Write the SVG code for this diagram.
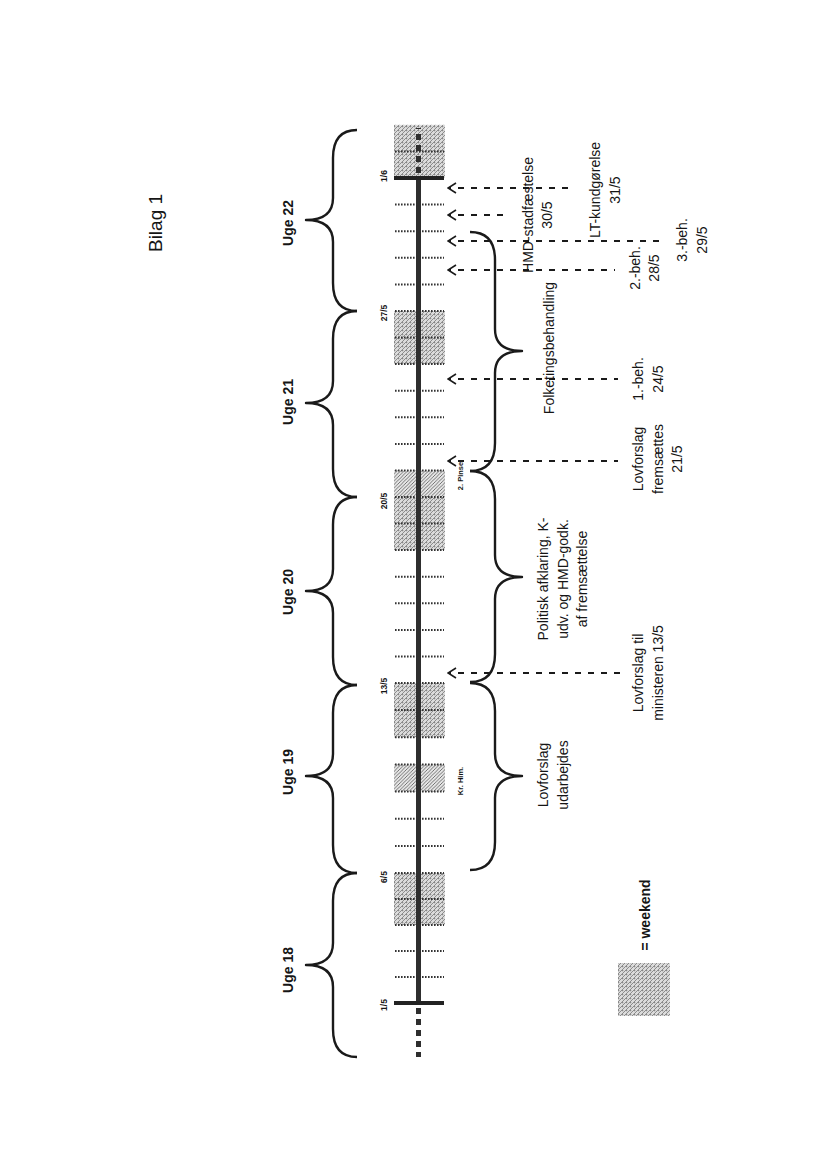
<svg xmlns="http://www.w3.org/2000/svg" width="825" height="1168" viewBox="0 0 825 1168">
<style>
text{font-family:"Liberation Sans",Arial,sans-serif;fill:#151515}
.t14{font-size:14px}
.b14{font-size:14px;font-weight:bold}
.dl{font-size:8.5px;font-weight:bold}
.hl{font-size:7.5px;font-weight:bold}
.brace{fill:none;stroke:#1a1a1a;stroke-width:2.4;stroke-linejoin:round}
.arr{stroke:#1a1a1a;stroke-width:2;stroke-dasharray:6 7;stroke-dashoffset:3;fill:none}
.wk{fill:url(#pw)}
.hol{fill:url(#ph)}
</style>
<defs>
<pattern id="pw" width="4" height="4" patternUnits="userSpaceOnUse">
<rect width="4" height="4" fill="#dcdcdc"/>
<path d="M-1,1 L1,-1 M0,4 L4,0 M3,5 L5,3" stroke="#777" stroke-width="0.8"/>
<rect x="2.2" y="2.2" width="1" height="1" fill="#5a5a5a"/>
</pattern>
<pattern id="ph" width="3.5" height="3.5" patternUnits="userSpaceOnUse">
<rect width="3.5" height="3.5" fill="#e6e6e6"/>
<path d="M-1,1 L1,-1 M0,3.5 L3.5,0 M2.5,4.5 L4.5,2.5" stroke="#555" stroke-width="0.8"/>
</pattern>
<marker id="ah" markerWidth="12" markerHeight="12" refX="1" refY="6" orient="auto" markerUnits="userSpaceOnUse">
<path d="M9,1 L1,6 L9,11" fill="none" stroke="#1a1a1a" stroke-width="1.6"/>
</marker>
</defs>
<rect width="825" height="1168" fill="#ffffff"/>

<g id="title">
<text style="font-size:19px" transform="translate(162,223) rotate(-90)" text-anchor="middle">Bilag 1</text>
</g>

<g id="timeline">
<rect class="wk" x="394" y="873" width="51" height="52"/>
<rect class="hol" x="394" y="764.4" width="51" height="27.2"/>
<rect class="wk" x="394" y="683" width="51" height="54.3"/>
<rect class="wk" x="394" y="497" width="51" height="53.1"/>
<rect class="hol" x="394" y="470.4" width="51" height="26.6"/>
<rect class="wk" x="394" y="311" width="51" height="53.1"/>
<rect class="wk" x="394" y="124.8" width="51" height="53.2"/>
<path fill="none" stroke="#333" stroke-width="2" stroke-dasharray="1.6 1.4" d="M395 977H444M395 951H444M395 925H444M395 899H444M395 873H444M395 845.9H444M395 818.7H444M395 791.6H444M395 764.4H444M395 737.3H444M395 710.1H444M395 683H444M395 656.4H444M395 629.9H444M395 603.3H444M395 576.7H444M395 550.1H444M395 523.6H444M395 497H444M395 470.4H444M395 443.9H444M395 417.3H444M395 390.7H444M395 364.1H444M395 337.6H444M395 311H444M395 284.4H444M395 257.8H444M395 231.2H444M395 204.6H444M395 151.4H444"/>
<line x1="418.5" y1="178" x2="418.5" y2="1003" stroke="#2e2e2e" stroke-width="5"/>
<line x1="418.5" y1="1008" x2="418.5" y2="1057" stroke="#2e2e2e" stroke-width="5" stroke-dasharray="6 5"/>
<line x1="418.5" y1="173" x2="418.5" y2="128" stroke="#2e2e2e" stroke-width="5" stroke-dasharray="6 5"/>
<line x1="394" y1="1003" x2="444" y2="1003" stroke="#222" stroke-width="4"/>
<line x1="394" y1="178" x2="444" y2="178" stroke="#222" stroke-width="4"/>
<text class="dl" transform="translate(387,1005) rotate(-90)" text-anchor="middle">1/5</text>
<text class="dl" transform="translate(387,877) rotate(-90)" text-anchor="middle">6/5</text>
<text class="dl" transform="translate(387,686) rotate(-90)" text-anchor="middle">13/5</text>
<text class="dl" transform="translate(387,501) rotate(-90)" text-anchor="middle">20/5</text>
<text class="dl" transform="translate(387,313) rotate(-90)" text-anchor="middle">27/5</text>
<text class="dl" transform="translate(387,176) rotate(-90)" text-anchor="middle">1/6</text>
<text class="hl" transform="translate(463,781) rotate(-90)" text-anchor="middle">Kr. Him.</text>
<text class="hl" transform="translate(463,476) rotate(-90)" text-anchor="middle">2. Pinse</text>
</g>

<g id="uge18">
<path class="brace" d="M357 1057 Q333 1057 333 1029 L333 987 Q333 965 306 965 Q333 965 333 943 L333 901 Q333 873 357 873"/>
<text class="b14" transform="translate(293,970) rotate(-90)" text-anchor="middle">Uge 18</text>
</g>
<g id="uge19">
<path class="brace" d="M357 873 Q333 873 333 845 L333 798 Q333 776 306 776 Q333 776 333 754 L333 713 Q333 685 357 685"/>
<text class="b14" transform="translate(293,772) rotate(-90)" text-anchor="middle">Uge 19</text>
</g>
<g id="uge20">
<path class="brace" d="M357 685 Q333 685 333 657 L333 613 Q333 591 306 591 Q333 591 333 569 L333 525 Q333 497 357 497"/>
<text class="b14" transform="translate(293,592) rotate(-90)" text-anchor="middle">Uge 20</text>
</g>
<g id="uge21">
<path class="brace" d="M357 497 Q333 497 333 469 L333 425 Q333 403 306 403 Q333 403 333 381 L333 339 Q333 311 357 311"/>
<text class="b14" transform="translate(293,402) rotate(-90)" text-anchor="middle">Uge 21</text>
</g>
<g id="uge22">
<path class="brace" d="M357 311 Q333 311 333 283 L333 242 Q333 220 306 220 Q333 220 333 198 L333 158 Q333 130 357 130"/>
<text class="b14" transform="translate(293,223) rotate(-90)" text-anchor="middle">Uge 22</text>
</g>

<g id="phase-udarbejdes">
<path class="brace" d="M470 870 Q495 870 495 842 L495 798 Q495 776 522 776 Q495 776 495 754 L495 711 Q495 683 470 683"/>
<text class="t14" transform="translate(548,775) rotate(-90)" text-anchor="middle"><tspan x="0" y="0">Lovforslag</tspan><tspan x="0" dy="20">udarbejdes</tspan></text>
</g>
<g id="phase-politisk">
<path class="brace" d="M470 682 Q495 682 495 654 L495 599 Q495 577 522 577 Q495 577 495 555 L495 499 Q495 471 470 471"/>
<text class="t14" transform="translate(548,579) rotate(-90)" text-anchor="middle"><tspan x="0" y="0">Politisk afklaring, K-</tspan><tspan x="0" dy="19.5">udv. og HMD-godk.</tspan><tspan x="0" dy="19.5">af fremsættelse</tspan></text>
</g>
<g id="phase-folketing">
<path class="brace" d="M470 471 Q495 471 495 443 L495 373 Q495 351 522 351 Q495 351 495 329 L495 260 Q495 232 470 232"/>
<text class="t14" transform="translate(554,348) rotate(-90)" text-anchor="middle">Folketingsbehandling</text>
</g>

<g id="connectors">
<line class="arr" marker-start="url(#ah)" x1="448" y1="673" x2="620" y2="673"/>
<line class="arr" marker-start="url(#ah)" x1="448" y1="461" x2="618" y2="461"/>
<line class="arr" marker-start="url(#ah)" x1="448" y1="379" x2="618" y2="379"/>
<line class="arr" marker-start="url(#ah)" x1="448" y1="270" x2="615" y2="270"/>
<line class="arr" marker-start="url(#ah)" x1="448" y1="241" x2="665" y2="241"/>
<line class="arr" marker-start="url(#ah)" x1="448" y1="215" x2="505" y2="215"/>
<line class="arr" marker-start="url(#ah)" x1="448" y1="188" x2="575" y2="188"/>
</g>

<g id="m-ministeren">
<text class="t14" transform="translate(643,673) rotate(-90)" text-anchor="middle"><tspan x="0" y="0">Lovforslag til</tspan><tspan x="0" dy="19.5">ministeren 13/5</tspan></text>
</g>
<g id="m-fremsaettes">
<text class="t14" transform="translate(643,459) rotate(-90)" text-anchor="middle"><tspan x="0" y="0">Lovforslag</tspan><tspan x="0" dy="19.5">fremsættes</tspan><tspan x="0" dy="19">21/5</tspan></text>
</g>
<g id="m-1beh">
<text class="t14" transform="translate(643,379) rotate(-90)" text-anchor="middle"><tspan x="0" y="0">1.-beh.</tspan><tspan x="0" dy="19.5">24/5</tspan></text>
</g>
<g id="m-2beh">
<text class="t14" transform="translate(640,268) rotate(-90)" text-anchor="middle"><tspan x="0" y="0">2.-beh.</tspan><tspan x="0" dy="18.5">28/5</tspan></text>
</g>
<g id="m-3beh">
<text class="t14" transform="translate(687,240) rotate(-90)" text-anchor="middle"><tspan x="0" y="0">3.-beh.</tspan><tspan x="0" dy="20">29/5</tspan></text>
</g>
<g id="m-hmd">
<text class="t14" transform="translate(533,215) rotate(-90)" text-anchor="middle"><tspan x="0" y="0">HMD-stadfæstelse</tspan><tspan x="0" dy="18.5">30/5</tspan></text>
</g>
<g id="m-lt">
<text class="t14" transform="translate(600,190) rotate(-90)" text-anchor="middle"><tspan x="0" y="0">LT-kundgørelse</tspan><tspan x="0" dy="20">31/5</tspan></text>
</g>

<g id="legend">
<rect class="wk" x="618" y="963" width="52" height="53"/>
<text class="b14" transform="translate(650,915) rotate(-90)" text-anchor="middle">= weekend</text>
</g>
</svg>
